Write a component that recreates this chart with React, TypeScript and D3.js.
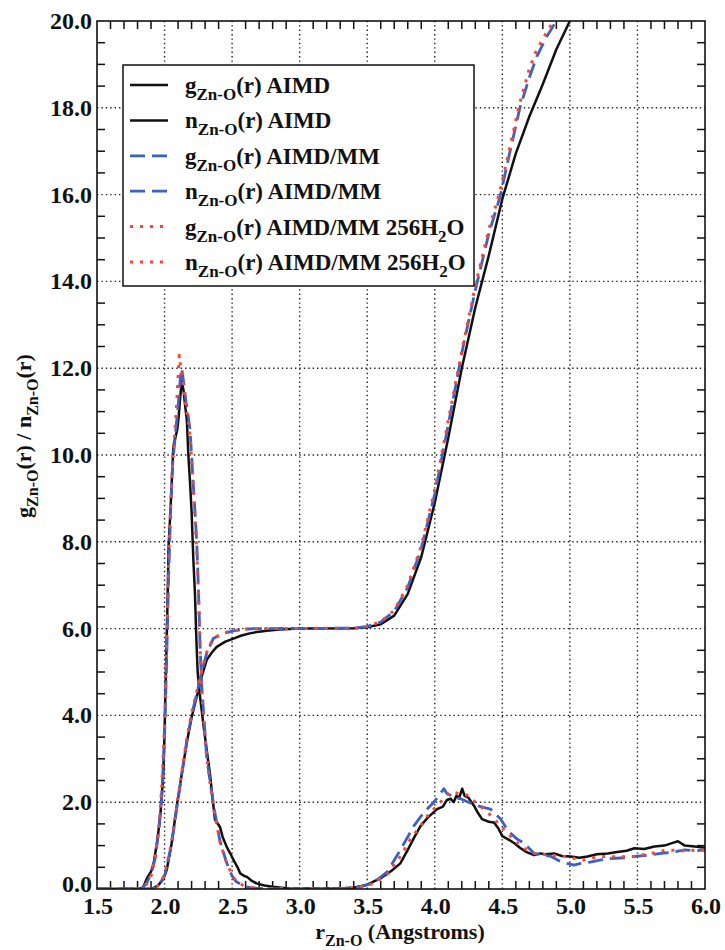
import React from "react";
import * as d3 from "d3";

// ---------- data ----------
const xDomain: [number, number] = [1.5, 6.0];
const yDomain: [number, number] = [0, 20];
const xMajorTicks = [1.5, 2.0, 2.5, 3.0, 3.5, 4.0, 4.5, 5.0, 5.5, 6.0];
const yMajorTicks = [0, 2, 4, 6, 8, 10, 12, 14, 16, 18, 20];

// g_Zn-O(r) AIMD  [r, g]
const gAimd: [number, number][] = [
  [1.5, 0], [1.8, 0], [1.84, 0.03], [1.87, 0.25], [1.9, 0.4], [1.92, 0.6], [1.95, 1.2], [1.97, 1.75],
  [1.99, 2.6], [2.0, 3.6], [2.01, 5.0], [2.02, 6.3], [2.03, 7.9], [2.045, 8.8], [2.055, 9.5], [2.065, 10.2],
  [2.08, 10.4], [2.095, 10.6], [2.105, 10.9], [2.115, 11.3], [2.127, 11.7], [2.14, 11.5], [2.15, 11.2],
  [2.165, 10.8], [2.176, 10.0], [2.188, 9.4], [2.2, 8.7], [2.213, 7.6], [2.225, 6.8], [2.235, 5.8],
  [2.245, 5.0], [2.26, 4.5], [2.287, 3.8], [2.31, 3.25], [2.336, 2.65], [2.355, 2.1], [2.373, 1.6],
  [2.39, 1.52], [2.41, 1.43], [2.43, 1.2], [2.46, 0.97], [2.49, 0.8], [2.51, 0.67], [2.54, 0.5],
  [2.56, 0.36], [2.59, 0.3], [2.61, 0.28], [2.64, 0.2], [2.68, 0.13], [2.74, 0.08], [2.8, 0.05],
  [2.9, 0.02], [3.0, 0.01], [3.3, 0.01], [3.4, 0.03], [3.5, 0.1], [3.6, 0.25], [3.68, 0.42],
  [3.745, 0.59], [3.8, 0.9], [3.85, 1.2], [3.894, 1.45], [3.95, 1.65], [4.017, 1.84], [4.06, 1.9],
  [4.09, 2.05], [4.116, 2.08], [4.14, 2.0], [4.16, 2.15], [4.18, 2.1], [4.203, 2.31], [4.22, 2.15],
  [4.25, 2.1], [4.29, 1.92], [4.32, 1.75], [4.35, 1.61], [4.4, 1.55], [4.438, 1.53], [4.47, 1.4],
  [4.5, 1.22], [4.54, 1.15], [4.587, 1.06], [4.63, 0.95], [4.68, 0.85], [4.735, 0.78], [4.78, 0.82],
  [4.82, 0.8], [4.884, 0.82], [4.94, 0.76], [5.007, 0.75], [5.07, 0.72], [5.13, 0.75], [5.2, 0.8],
  [5.28, 0.82], [5.35, 0.85], [5.42, 0.88], [5.478, 0.94], [5.55, 0.92], [5.626, 0.98], [5.7, 1.0],
  [5.75, 1.05], [5.8, 1.1], [5.85, 1.0], [5.923, 0.98], [6.0, 0.95],
];

// n_Zn-O(r) AIMD
const nAimd: [number, number][] = [
  [1.5, 0], [1.9, 0], [1.95, 0.08], [1.98, 0.18], [2.0, 0.3], [2.016, 0.44], [2.05, 1.0], [2.09, 1.9],
  [2.13, 2.7], [2.164, 3.36], [2.2, 3.95], [2.238, 4.43], [2.275, 4.9], [2.312, 5.28], [2.35, 5.45],
  [2.386, 5.58], [2.45, 5.7], [2.51, 5.77], [2.57, 5.84], [2.63, 5.89], [2.7, 5.93], [2.756, 5.95],
  [2.85, 5.98], [3.0, 6.0], [3.4, 6.01], [3.5, 6.03], [3.6, 6.1], [3.7, 6.3], [3.8, 6.8], [3.9, 7.65],
  [4.0, 8.9], [4.1, 10.4], [4.2, 12.0], [4.236, 12.5], [4.3, 13.4], [4.4, 14.6], [4.5, 15.9],
  [4.6, 16.95], [4.7, 17.8], [4.8, 18.55], [4.9, 19.35], [5.0, 20.0], [5.1, 20.7],
];

// g_Zn-O(r) AIMD/MM
const gAimdMm: [number, number][] = [
  [1.5, 0], [1.83, 0], [1.87, 0.15], [1.9, 0.35], [1.93, 0.7], [1.96, 1.4], [1.98, 2.2], [2.0, 3.5],
  [2.015, 5.2], [2.03, 7.2], [2.045, 8.7], [2.06, 9.8], [2.075, 10.3], [2.09, 10.8], [2.105, 11.3],
  [2.118, 11.8], [2.127, 12.0], [2.14, 11.7], [2.16, 11.2], [2.175, 10.9], [2.188, 10.6], [2.2, 10.0],
  [2.213, 9.3], [2.225, 8.7], [2.238, 8.0], [2.25, 7.0], [2.263, 5.6], [2.275, 4.7], [2.29, 4.0],
  [2.31, 3.1], [2.34, 2.4], [2.373, 1.75], [2.41, 1.1], [2.44, 0.8], [2.46, 0.6], [2.5, 0.3],
  [2.53, 0.17], [2.6, 0.05], [2.7, 0.01], [3.3, 0.01], [3.45, 0.05], [3.55, 0.15], [3.65, 0.4],
  [3.745, 0.9], [3.8, 1.2], [3.844, 1.45], [3.918, 1.76], [3.993, 2.0], [4.03, 2.15], [4.067, 2.31],
  [4.09, 2.2], [4.116, 2.16], [4.15, 2.1], [4.19, 2.08], [4.25, 2.0], [4.314, 1.92], [4.36, 1.88],
  [4.413, 1.84], [4.488, 1.61], [4.52, 1.45], [4.56, 1.29], [4.61, 1.15], [4.66, 1.06], [4.735, 0.82],
  [4.8, 0.78], [4.86, 0.75], [4.92, 0.65], [4.98, 0.59], [5.03, 0.55], [5.08, 0.59], [5.15, 0.62],
  [5.23, 0.67], [5.3, 0.7], [5.4, 0.72], [5.478, 0.75], [5.58, 0.78], [5.676, 0.82], [5.76, 0.85],
  [5.85, 0.9], [5.92, 0.88], [6.0, 0.9],
];

// n_Zn-O(r) AIMD/MM
const nAimdMm: [number, number][] = [
  [1.5, 0], [1.9, 0], [1.95, 0.06], [2.0, 0.3], [2.05, 1.0], [2.09, 1.85], [2.13, 2.7], [2.164, 3.4],
  [2.2, 4.0], [2.238, 4.5], [2.275, 5.0], [2.312, 5.43], [2.36, 5.77], [2.435, 5.89], [2.51, 5.95],
  [2.6, 5.99], [2.7, 6.0], [3.4, 6.01], [3.5, 6.05], [3.6, 6.15], [3.7, 6.4], [3.8, 6.95], [3.9, 7.85],
  [4.0, 9.1], [4.1, 10.7], [4.21, 12.5], [4.3, 13.8], [4.4, 15.1], [4.483, 15.95], [4.55, 16.9],
  [4.63, 18.0], [4.7, 18.7], [4.755, 19.18], [4.83, 19.65], [4.9, 20.0], [5.0, 20.8],
];

// g_Zn-O(r) AIMD/MM 256H2O
const gAimdMm256: [number, number][] = [
  [1.5, 0], [1.83, 0], [1.87, 0.12], [1.9, 0.3], [1.93, 0.7], [1.96, 1.5], [1.98, 2.4], [2.0, 3.8],
  [2.015, 5.6], [2.03, 7.5], [2.045, 8.9], [2.06, 9.8], [2.075, 10.5], [2.09, 11.2], [2.1, 11.8],
  [2.109, 12.3], [2.12, 12.0], [2.135, 11.7], [2.155, 11.2], [2.175, 10.8], [2.19, 10.4], [2.2, 9.9],
  [2.213, 9.2], [2.225, 8.6], [2.238, 7.8], [2.25, 6.9], [2.263, 5.6], [2.275, 4.6], [2.29, 3.9],
  [2.31, 3.1], [2.34, 2.35], [2.373, 1.7], [2.41, 1.1], [2.44, 0.78], [2.46, 0.6], [2.5, 0.32],
  [2.53, 0.18], [2.6, 0.05], [2.7, 0.01], [3.3, 0.01], [3.45, 0.05], [3.55, 0.13], [3.65, 0.35],
  [3.745, 0.75], [3.82, 1.15], [3.894, 1.45], [3.95, 1.7], [4.017, 1.92], [4.07, 2.1], [4.116, 2.24],
  [4.18, 2.2], [4.24, 2.16], [4.3, 2.0], [4.364, 1.84], [4.43, 1.65], [4.488, 1.45], [4.55, 1.25],
  [4.611, 1.06], [4.68, 0.9], [4.735, 0.82], [4.8, 0.8], [4.86, 0.78], [4.92, 0.76], [4.98, 0.75],
  [5.04, 0.7], [5.1, 0.67], [5.17, 0.72], [5.23, 0.75], [5.35, 0.74], [5.478, 0.75], [5.6, 0.82],
  [5.72, 0.9], [5.85, 0.88], [5.97, 0.9], [6.0, 0.9],
];

// n_Zn-O(r) AIMD/MM 256H2O
const nAimdMm256: [number, number][] = [
  [1.5, 0], [1.9, 0], [1.95, 0.07], [2.0, 0.32], [2.05, 1.05], [2.09, 1.9], [2.13, 2.75], [2.164, 3.45],
  [2.2, 4.05], [2.238, 4.55], [2.275, 5.02], [2.312, 5.45], [2.36, 5.78], [2.435, 5.9], [2.51, 5.95],
  [2.6, 5.99], [2.7, 6.0], [3.4, 6.01], [3.5, 6.05], [3.6, 6.16], [3.7, 6.42], [3.8, 7.0], [3.9, 7.9],
  [4.0, 9.2], [4.1, 10.8], [4.2, 12.4], [4.3, 13.9], [4.4, 15.2], [4.48, 16.05], [4.55, 17.0],
  [4.62, 18.0], [4.7, 18.9], [4.75, 19.3], [4.82, 19.7], [4.88, 20.0], [5.0, 20.8],
];

const legendLabels = [
  { main: "g", sub: "Zn-O", rest: "(r) AIMD", h2o: false },
  { main: "n", sub: "Zn-O", rest: "(r) AIMD", h2o: false },
  { main: "g", sub: "Zn-O", rest: "(r) AIMD/MM", h2o: false },
  { main: "n", sub: "Zn-O", rest: "(r) AIMD/MM", h2o: false },
  { main: "g", sub: "Zn-O", rest: "(r) AIMD/MM 256H", h2o: true },
  { main: "n", sub: "Zn-O", rest: "(r) AIMD/MM 256H", h2o: true },
];

// ---------- styles ----------
const BLACK = "#111111";
const BLUE = "#3b60c8";
const RED = "#ff4433";
const FONT = "Liberation Serif";

const styles = [
  { stroke: BLACK, dash: undefined as string | undefined, width: 2.5 },
  { stroke: BLUE, dash: "15,7", width: 2.8 },
  { stroke: RED, dash: "3,7", width: 3 },
];

export default function App() {
  const W = 725;
  const H = 950;
  const left = 97, right = 705, top = 21, bottom = 889;

  const x = d3.scaleLinear().domain(xDomain).range([left, right]);
  const y = d3.scaleLinear().domain(yDomain).range([bottom, top]);
  const line = d3
    .line<[number, number]>()
    .x((d) => x(d[0]))
    .y((d) => y(d[1]));

  const series = [
    { data: gAimd, st: styles[0] },
    { data: nAimd, st: styles[0] },
    { data: gAimdMm, st: styles[1] },
    { data: nAimdMm, st: styles[1] },
    { data: gAimdMm256, st: styles[2] },
    { data: nAimdMm256, st: styles[2] },
  ];

  const xMinor = d3.range(15, 61).map((v) => v / 10).filter((v) => Math.abs(v * 2 - Math.round(v * 2)) > 1e-6);
  const yMinor = d3.range(0, 41).map((v) => v / 2).filter((v) => Math.abs(v / 2 - Math.round(v / 2)) > 1e-6);
  const tickLen = 8;

  const legX = 123, legY = 65, legW = 351, legH = 221;
  const rowY = (i: number) => 85 + i * 35.4;

  return (
    <svg width={W} height={H} style={{ position: "absolute", left: 0, top: 0, background: "#fff" }}>
      <rect x={0} y={0} width={W} height={H} fill="#fff" />
      <defs>
        <clipPath id="plotClip">
          <rect x={left} y={top} width={right - left} height={bottom - top} />
        </clipPath>
      </defs>

      {/* grid */}
      <g stroke="#222" strokeWidth={1.4} strokeDasharray="1.4,3">
        {xMajorTicks.slice(1, -1).map((v) => (
          <line key={"gx" + v} x1={x(v)} x2={x(v)} y1={bottom} y2={top} />
        ))}
        {yMajorTicks.slice(1, -1).map((v) => (
          <line key={"gy" + v} x1={left} x2={right} y1={y(v)} y2={y(v)} />
        ))}
      </g>

      {/* minor ticks on all sides */}
      <g stroke="#111" strokeWidth={1.5}>
        {xMinor.map((v) => (
          <g key={"tx" + v}>
            <line x1={x(v)} x2={x(v)} y1={bottom} y2={bottom - tickLen} />
            <line x1={x(v)} x2={x(v)} y1={top} y2={top + tickLen} />
          </g>
        ))}
        {yMinor.map((v) => (
          <g key={"ty" + v}>
            <line x1={left} x2={left + tickLen} y1={y(v)} y2={y(v)} />
            <line x1={right} x2={right - tickLen} y1={y(v)} y2={y(v)} />
          </g>
        ))}
      </g>

      {/* data */}
      <g clipPath="url(#plotClip)" fill="none">
        {series.map((s, i) => (
          <path
            key={"s" + i}
            d={line(s.data) || ""}
            stroke={s.st.stroke}
            strokeWidth={s.st.width}
            strokeDasharray={s.st.dash}
            strokeLinejoin="round"
          />
        ))}
      </g>

      {/* frame */}
      <rect x={left} y={top} width={right - left} height={bottom - top} fill="none" stroke="#111" strokeWidth={1.6} />

      {/* tick labels */}
      <g fontSize={24} fontWeight="bold" fill="#111" fontFamily={FONT}>
        {yMajorTicks.map((v) => (
          <text key={"yl" + v} x={92} y={y(v) + (v === 0 ? 3 : 8)} textAnchor="end">
            {v.toFixed(1)}
          </text>
        ))}
        {xMajorTicks.map((v) => (
          <text key={"xl" + v} x={x(v) + 1} y={914} textAnchor="middle">
            {v.toFixed(1)}
          </text>
        ))}
      </g>

      {/* axis titles */}
      <text x={400} y={939} textAnchor="middle" fontSize={22} fontWeight="bold" fill="#111" fontFamily={FONT}>
        <tspan>r</tspan>
        <tspan fontSize={16} dy={7}>Zn-O</tspan>
        <tspan dy={-7}> (Angstroms)</tspan>
      </text>
      <text
        transform={`translate(31, 436) rotate(-90)`}
        textAnchor="middle"
        fontSize={22}
        fontWeight="bold"
        fill="#111"
        fontFamily={FONT}
      >
        <tspan>g</tspan>
        <tspan fontSize={16} dy={7}>Zn-O</tspan>
        <tspan dy={-7}>(r) / n</tspan>
        <tspan fontSize={16} dy={7}>Zn-O</tspan>
        <tspan dy={-7}>(r)</tspan>
      </text>

      {/* legend */}
      <rect x={legX} y={legY} width={legW} height={legH} fill="#fff" stroke="#111" strokeWidth={1.5} />
      {legendLabels.map((l, i) => {
        const st = styles[Math.floor(i / 2)];
        const cy = rowY(i);
        return (
          <g key={"leg" + i}>
            <line
              x1={130}
              x2={168}
              y1={cy}
              y2={cy}
              stroke={st.stroke}
              strokeWidth={st.width}
              strokeDasharray={st.dash}
            />
            <text x={185} y={cy + 8} fontSize={23} fontWeight="bold" fill="#111" fontFamily={FONT}>
              <tspan>{l.main}</tspan>
              <tspan fontSize={17} dy={7}>{l.sub}</tspan>
              <tspan dy={-7}>{l.rest}</tspan>
              {l.h2o ? (
                <>
                  <tspan fontSize={17} dy={7}>2</tspan>
                  <tspan dy={-7}>O</tspan>
                </>
              ) : null}
            </text>
          </g>
        );
      })}
    </svg>
  );
}
